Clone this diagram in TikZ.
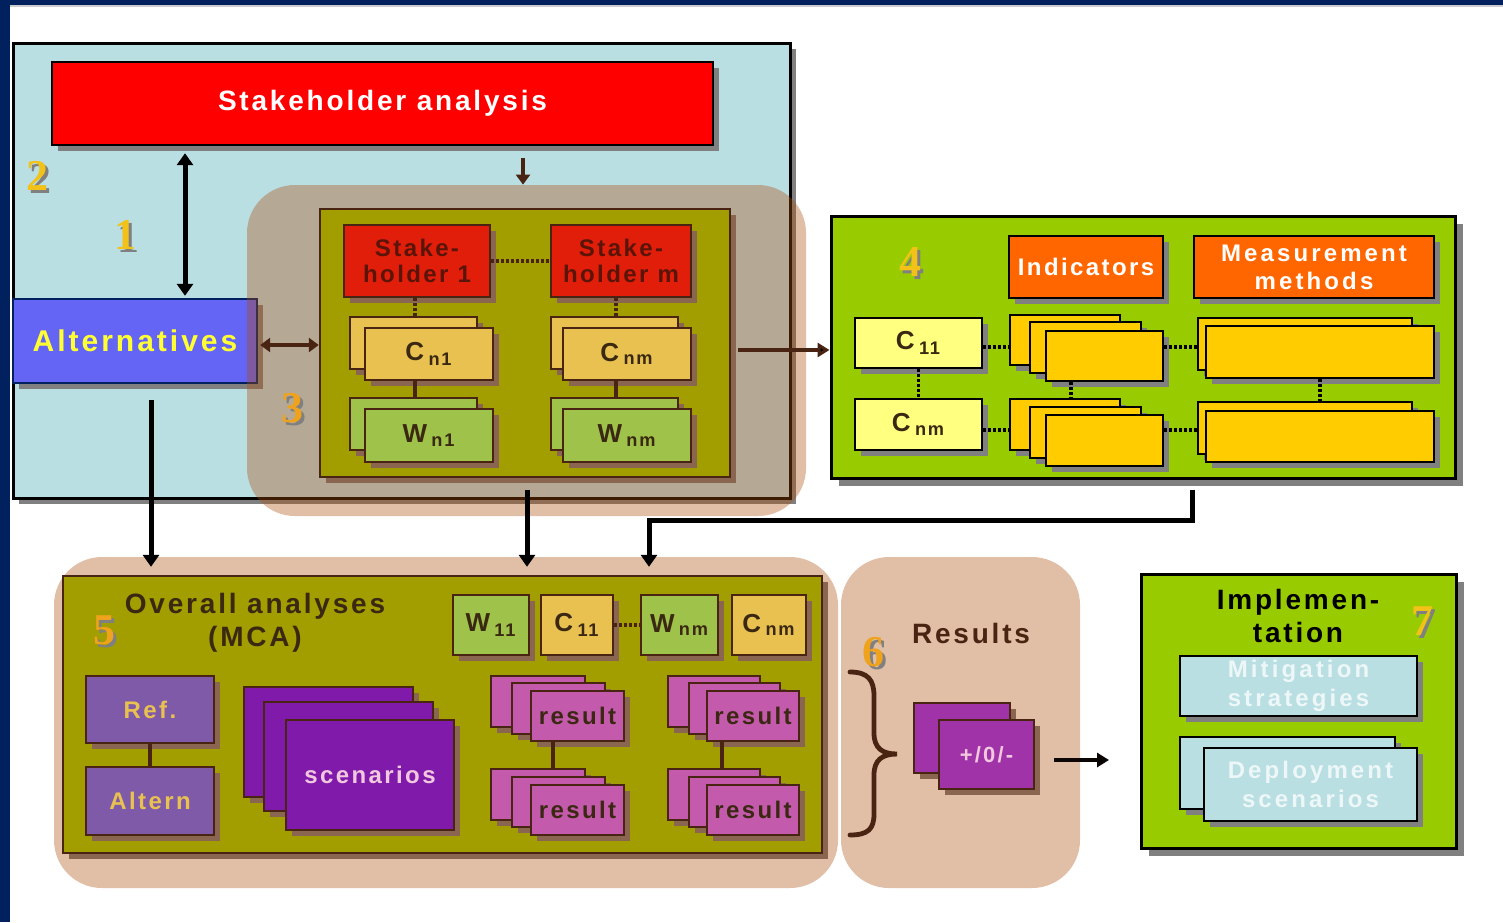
\documentclass[tikz,border=0pt]{standalone}
\usepackage{fontspec}
\setmainfont{Liberation Sans}
\newfontfamily\wf[LetterSpace=10]{Liberation Sans}
\newfontfamily\wfw[LetterSpace=13]{Liberation Sans}
\newfontfamily\numf{Liberation Serif}
\usetikzlibrary{arrows.meta,shadows}
\definecolor{navy}{HTML}{00205E}
\definecolor{lblue}{HTML}{B9DFE3}
\definecolor{altblue}{HTML}{6464F5}
\definecolor{altyel}{HTML}{FFFF33}
\definecolor{salm}{RGB}{174,76,11}
\definecolor{olive}{HTML}{A39E00}
\definecolor{dbrown}{HTML}{4A2412}
\definecolor{sred}{HTML}{E01E0A}
\definecolor{stxt}{HTML}{5A1408}
\definecolor{gold}{HTML}{E8C150}
\definecolor{wgreen}{HTML}{9EC24A}
\definecolor{cwtxt}{HTML}{3A2812}
\definecolor{lgreen}{HTML}{99CC00}
\definecolor{orng}{HTML}{FF6600}
\definecolor{ystack}{HTML}{FFCC00}
\definecolor{lyel}{HTML}{FFFF80}
\definecolor{refp}{HTML}{7E5AA8}
\definecolor{scenp}{HTML}{7F1AAB}
\definecolor{resp}{HTML}{C45AAC}
\definecolor{pmp}{HTML}{A033A8}
\definecolor{shgray}{HTML}{808080}
\definecolor{shbrown}{HTML}{8A6650}
\definecolor{numyel}{HTML}{F2C218}
\definecolor{numorg}{HTML}{EFA21C}
\definecolor{lighttxt}{HTML}{EEF7F7}
\definecolor{pinktxt}{HTML}{F2C8DE}
\newcommand{\bxx}[7]{\node[#5, minimum width={(#3-#1)*0.5pt}, minimum height={(#4-#2)*0.5pt}] (#6) at ({(#1+#3)/2},{(#2+#4)/2}) {#7};}
\newcommand{\numlab}[5]{\node[numl, text=shgray] at ({#2+3},{#3+3}) {#4};\node[numl, text=#5] (#1) at (#2,#3) {#4};}
\begin{document}
\begin{tikzpicture}[x=0.5pt,y=-0.5pt,
  bx/.style={inner sep=0pt, line width=1.2pt, align=center, font=\wf\bfseries\fontsize{12}{13.5}\selectfont},
  shg/.style={drop shadow={shadow xshift=#1, shadow yshift=-#1, fill=shgray, opacity=1}}, shg/.default=3pt,
  shb/.style={drop shadow={shadow xshift=#1, shadow yshift=-#1, fill=shbrown, opacity=1}}, shb/.default=3pt,
  cbox/.style={bx, fill=gold, draw=dbrown, shb, text=cwtxt, font=\wf\bfseries\fontsize{13}{14}\selectfont},
  wbox/.style={cbox, fill=wgreen},
  ybox/.style={bx, fill=ystack, draw=black, shg},
  rbox/.style={bx, fill=resp, draw=dbrown, shb, text=cwtxt, font=\wf\bfseries\fontsize{12}{13}\selectfont},
  scbox/.style={bx, fill=scenp, draw=dbrown, shb, text=pinktxt},
  lbbox/.style={bx, fill=lblue, draw=black, shg, text=lighttxt, font=\wfw\bfseries\fontsize{12}{14.5}\selectfont},
  salmreg/.style={inner sep=0pt, rounded corners=24pt, fill=salm, fill opacity=0.36},
  numl/.style={font=\numf\bfseries\fontsize{22}{22}\selectfont, inner sep=0pt},
  arrb/.style={line width=2.5pt, draw=black, -{Triangle[width=8pt,length=6pt]}},
  arrn/.style={line width=2pt, draw=dbrown, -{Triangle[width=7pt,length=5pt]}},
  lnk/.style={line width=1.6pt, draw=#1},
  dotl/.style={line width=1.6pt, draw=#1, dash pattern=on 1.5pt off 1pt},
  txt/.style={inner sep=0pt, align=center, font=\wf\bfseries\fontsize{14}{16.5}\selectfont}]
\useasboundingbox (0,0) rectangle (1503,922);
\fill[white] (0,0) rectangle (1503,922);
\fill[navy] (0,0) rectangle (1503,5);
\fill[navy] (0,0) rectangle (10,922);
\fill[black!20] (10,5) rectangle (1503,7);

% ---------- region 2 ----------
\bxx{13}{43}{790}{498}{bx, fill=lblue, draw=black, line width=1.5pt, shg}{r2}{}
\bxx{52}{62}{713}{145}{bx, fill=red, draw=black, shg, text=white, font=\wf\bfseries\fontsize{14}{16}\selectfont}{sa}{Stakeholder analysis}
\bxx{13}{299}{257}{383}{bx, fill=altblue, draw=navy, shg, text=altyel, font=\wf\bfseries\fontsize{15}{17}\selectfont}{alt}{Alternatives}
\numlab{n2}{37}{176}{2}{numyel}
\numlab{n1}{125}{235}{1}{numyel}

% ---------- region 3 ----------
\bxx{247}{185}{806}{516}{salmreg}{r3}{}
\bxx{320}{209}{730}{477}{bx, fill=olive, draw=dbrown, shb}{o3}{}
\bxx{344}{225}{490}{297}{bx, fill=sred, draw=dbrown, shb, text=stxt, font=\wf\bfseries\fontsize{12}{13}\selectfont}{s1}{Stake-\\holder 1}
\bxx{551}{225}{691}{297}{bx, fill=sred, draw=dbrown, shb, text=stxt, font=\wf\bfseries\fontsize{12}{13}\selectfont}{sm}{Stake-\\holder m}
\bxx{350}{317}{477}{369}{cbox}{cn1b}{}
\bxx{365}{328}{493}{380}{cbox}{cn1}{C\,\textsubscript{n1}}
\bxx{551}{317}{678}{369}{cbox}{cnmb}{}
\bxx{563}{328}{691}{380}{cbox}{cnm3}{C\,\textsubscript{nm}}
\bxx{350}{398}{477}{450}{wbox}{wn1b}{}
\bxx{365}{409}{493}{462}{wbox}{wn1}{W\,\textsubscript{n1}}
\bxx{551}{398}{678}{450}{wbox}{wnmb}{}
\bxx{563}{409}{691}{462}{wbox}{wnm3}{W\,\textsubscript{nm}}
\coordinate (xl) at (415,0);
\coordinate (xr) at (616,0);
\draw[dotl=dbrown] (s1.east) -- (sm.west);
\draw[dotl=dbrown] (s1.south -| xl) -- (cn1b.north -| xl);
\draw[dotl=dbrown] (sm.south -| xr) -- (cnmb.north -| xr);
\draw[lnk=dbrown] (cn1.south -| xl) -- (wn1b.north -| xl);
\draw[lnk=dbrown] (cnm3.south -| xr) -- (wnmb.north -| xr);
\numlab{n3}{292}{408}{3}{numorg}
\coordinate (a3) at (523,0);
\draw[arrn] ([yshift=-6pt]sa.south -| a3) -- (r3.north -| a3);
\draw[arrn, {Triangle[width=7pt,length=5pt]}-{Triangle[width=7pt,length=5pt]}] ([xshift=1pt]alt.east |- 0,345) -- (o3.west |- 0,345);
\coordinate (a1) at (185,0);
\draw[arrb, {Triangle[width=8pt,length=6pt]}-{Triangle[width=8pt,length=6pt]}] ([yshift=-3.5pt]sa.south -| a1) -- ([yshift=1pt]alt.north -| a1);

% ---------- region 4 ----------
\bxx{831}{216}{1455}{478}{bx, fill=lgreen, draw=black, line width=1.5pt, shg=4pt}{r4}{}
\bxx{1009}{236}{1163}{298}{bx, fill=orng, draw=black, shg, text=white}{ind}{Indicators}
\bxx{1194}{236}{1434}{298}{bx, fill=orng, draw=black, shg, text=white, font=\wfw\bfseries\fontsize{12}{14}\selectfont}{mm}{Measurement\\methods}
\bxx{855}{318}{982}{368}{bx, fill=lyel, draw=black, shg, text=cwtxt, font=\wf\bfseries\fontsize{13}{14}\selectfont}{c11}{C\,\textsubscript{11}}
\bxx{855}{399}{982}{450}{bx, fill=lyel, draw=black, shg, text=cwtxt, font=\wf\bfseries\fontsize{13}{14}\selectfont}{cnm4}{C\,\textsubscript{nm}}
\bxx{1010}{315}{1120}{365}{ybox}{it1}{}
\bxx{1030}{322}{1141}{373}{ybox}{it2}{}
\bxx{1046}{331}{1163}{381}{ybox}{it3}{}
\bxx{1010}{399}{1120}{450}{ybox}{ib1}{}
\bxx{1030}{407}{1141}{458}{ybox}{ib2}{}
\bxx{1046}{415}{1163}{466}{ybox}{ib3}{}
\bxx{1198}{318}{1412}{370}{ybox}{mt1}{}
\bxx{1206}{326}{1434}{378}{ybox}{mt2}{}
\bxx{1198}{402}{1412}{454}{ybox}{mb1}{}
\bxx{1206}{411}{1434}{462}{ybox}{mb2}{}
\coordinate (y1) at (0,347);
\coordinate (y2) at (0,430);
\draw[dotl=black] (c11.east |- y1) -- (it1.west |- y1);
\draw[dotl=black] (it3.east |- y1) -- (mt1.west |- y1);
\draw[dotl=black] (cnm4.east |- y2) -- (ib1.west |- y2);
\draw[dotl=black] (ib3.east |- y2) -- (mb1.west |- y2);
\draw[dotl=black] (c11.south) -- (cnm4.north);
\coordinate (x4a) at (1071,0);
\coordinate (x4b) at (1320,0);
\draw[dotl=black] (it3.south -| x4a) -- (ib1.north -| x4a);
\draw[dotl=black] (mt2.south -| x4b) -- (mb1.north -| x4b);
\numlab{n4}{910}{262}{4}{numyel}
\coordinate (o3r) at (738,350);
\draw[arrn, -{Triangle[width=7pt,length=6pt,fill=black]}] (o3r) -- (r4.west |- o3r);

% ---------- region 5 ----------
\bxx{54}{557}{838}{888}{salmreg}{r5}{}
\bxx{63}{576}{822}{853}{bx, fill=olive, draw=dbrown, shb}{o5}{}
\node[txt, text=cwtxt] (ova) at (255,623) {Overall analyses\\(MCA)};
\numlab{n5}{104}{630}{5}{numorg}
\bxx{453}{595}{529}{655}{wbox}{w11}{W\,\textsubscript{11}}
\bxx{541}{595}{613}{655}{cbox}{c11b}{C\,\textsubscript{11}}
\bxx{641}{595}{718}{655}{wbox}{wnm5}{W\,\textsubscript{nm}}
\bxx{732}{595}{806}{655}{cbox}{cnm5}{C\,\textsubscript{nm}}
\draw[dotl=dbrown] (c11b.east) -- (wnm5.west);
\bxx{86}{676}{214}{743}{bx, fill=refp, draw=dbrown, shb, text=gold}{ref}{Ref.}
\bxx{86}{767}{214}{835}{bx, fill=refp, draw=dbrown, shb, text=gold}{altn}{Altern}
\draw[lnk=dbrown] (ref.south) -- (altn.north);
\bxx{244}{687}{413}{797}{scbox}{sc1}{}
\bxx{264}{702}{433}{811}{scbox}{sc2}{}
\bxx{286}{720}{454}{830}{scbox}{sc3}{scenarios}
\bxx{491}{676}{585}{727}{rbox}{ra1}{}
\bxx{512}{683}{605}{734}{rbox}{ra2}{}
\bxx{531}{691}{624}{741}{rbox}{ra3}{result}
\bxx{491}{769}{585}{820}{rbox}{rb1}{}
\bxx{512}{777}{605}{827}{rbox}{rb2}{}
\bxx{531}{785}{624}{835}{rbox}{rb3}{result}
\bxx{668}{676}{760}{727}{rbox}{rc1}{}
\bxx{689}{683}{780}{734}{rbox}{rc2}{}
\bxx{707}{691}{799}{741}{rbox}{rc3}{result}
\bxx{668}{769}{760}{820}{rbox}{rd1}{}
\bxx{689}{777}{780}{827}{rbox}{rd2}{}
\bxx{707}{785}{799}{835}{rbox}{rd3}{result}
\coordinate (x5a) at (553,0);
\coordinate (x5b) at (722,0);
\draw[lnk=dbrown] (ra3.south -| x5a) -- (rb1.north -| x5a);
\draw[lnk=dbrown] (rc3.south -| x5b) -- (rd1.north -| x5b);

% ---------- connectors into region 5 ----------
\coordinate (x2) at (151,0);
\draw[arrb] ([yshift=-8pt]alt.south -| x2) -- ([yshift=4pt]o5.north -| x2);
\coordinate (x3) at (527,0);
\draw[arrb] ([yshift=-6pt]o3.south -| x3) -- ([yshift=4pt]o5.north -| x3);
\coordinate (k1) at (1192,520);
\coordinate (k2) at (649,520);
\draw[arrb] ([yshift=-5pt]r4.south -| k1) -- (k1) -- (k2) -- ([yshift=4pt]o5.north -| k2);

% ---------- region 6 ----------
\bxx{841}{557}{1080}{888}{salmreg}{r6}{}
\node[txt, text=dbrown] (res) at (971,633) {Results};
\numlab{n6}{873}{652}{6}{numorg}
\draw[line width=2.4pt, draw=dbrown, line cap=round] (850,672) .. controls (868,672) and (874,680) .. (874,696) -- (874,733) .. controls (874,748) and (882,754) .. (897,754) .. controls (882,754) and (874,760) .. (874,775) -- (874,814) .. controls (874,829) and (868,835) .. (850,835);
\bxx{914}{703}{1010}{773}{bx, fill=pmp, draw=dbrown, shb}{pm1}{}
\bxx{939}{720}{1034}{789}{bx, fill=pmp, draw=dbrown, shb, text=pinktxt, font=\wf\bfseries\fontsize{11}{12}\selectfont}{pm}{+/0/-}

% ---------- region 7 ----------
\bxx{1141}{574}{1456}{848}{bx, fill=lgreen, draw=black, line width=1.5pt, shg=4pt}{r7}{}
\node[txt, text=black] (impl) at (1298,616) {Implemen-\\tation};
\numlab{n7}{1422}{621}{7}{numyel}
\bxx{1180}{656}{1417}{716}{lbbox}{mit}{Mitigation\\strategies}
\bxx{1180}{737}{1395}{809}{lbbox}{dep1}{}
\bxx{1204}{748}{1417}{821}{lbbox}{dep}{Deployment\\scenarios}
\coordinate (pmr) at (1054,760);
\coordinate (r7l) at (1109,760);
\draw[arrn, draw=black!85!dbrown, -{Triangle[width=7pt,length=6pt,fill=black]}] (pmr) -- (r7l);
\end{tikzpicture}
\end{document}
